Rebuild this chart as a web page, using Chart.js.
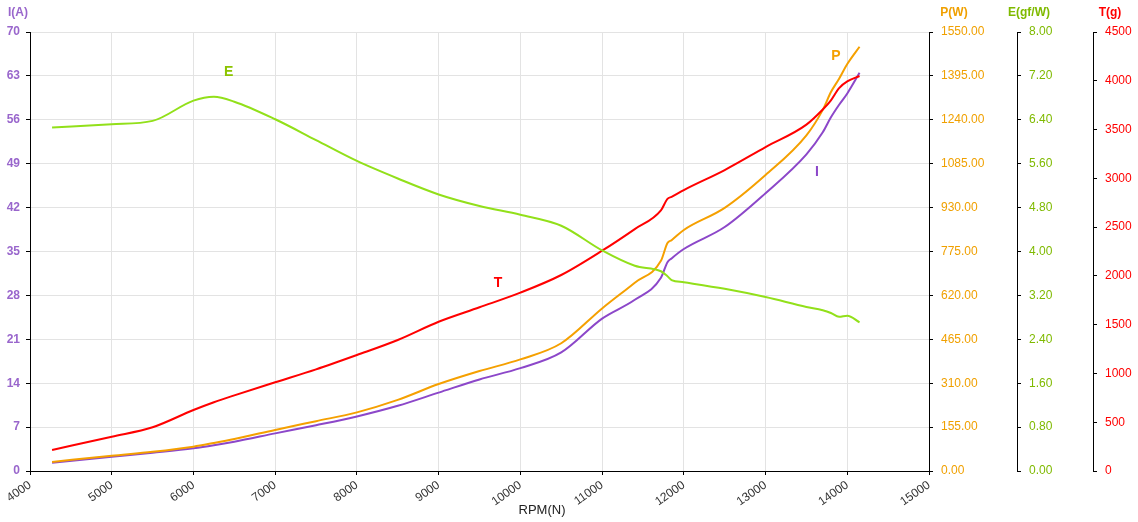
<!DOCTYPE html>
<html>
<head>
<meta charset="utf-8">
<title>RPM chart</title>
<script src="https://cdn.jsdelivr.net/npm/chart.js@4.4.1/dist/chart.umd.min.js"></script>
<style>
  html, body { margin: 0; padding: 0; background: #fff; }
  #wrap { width: 1138px; height: 522px; }
</style>
</head>
<body>
<div id="wrap"><canvas id="rpmChart" width="1138" height="522"></canvas></div>
<script>
const rpm = [4270, 5000, 5500, 6000, 6250, 6500, 7000, 7500, 8000, 8500, 9000, 9500, 10000, 10500,
  11000, 11400, 11720, 11800, 11850, 12000, 12500, 13000, 13500, 13700, 13800, 13900, 14000, 14150];
const currentA = [1.33, 2.28, 2.92, 3.62, 4.1, 4.67, 6.0, 7.3, 8.7, 10.4, 12.5, 14.6, 16.4, 18.9,
  24.3, 27.3, 30.8, 33.3, 33.9, 35.4, 38.9, 44.3, 50.5, 54.0, 56.4, 58.4, 60.2, 63.5];
const powerW = [32, 54, 68, 86, 99, 113, 145, 176, 207, 251, 307, 353, 394, 451,
  574, 665, 742, 805, 815, 851, 929, 1045, 1185, 1275, 1338, 1385, 1437, 1498];
const effic = [6.26, 6.32, 6.38, 6.75, 6.82, 6.73, 6.41, 6.03, 5.65, 5.33, 5.04, 4.83, 4.67, 4.47,
  4.02, 3.74, 3.64, 3.55, 3.48, 3.44, 3.32, 3.17, 2.99, 2.93, 2.88, 2.81, 2.83, 2.71];
const thrustG = [215, 352, 448, 625, 705, 775, 909, 1042, 1189, 1343, 1530, 1678, 1828, 2009,
  2258, 2480, 2672, 2790, 2810, 2880, 3085, 3320, 3550, 3705, 3800, 3925, 3993, 4049];

const COLORS = {
  I: '#8c47c9', Itext: '#9966cc',
  P: '#f5a000', Ptext: '#f0a000',
  E: '#92e01a', Etext: '#7fba00',
  T: '#ff0000', Ttext: '#ff0000'
};

// curve name tags (data coords)
const seriesLabels = [
  { text: 'E', axis: 'yE', rpm: 6430, value: 7.27, color: '#8cc400' },
  { text: 'T', axis: 'yT', rpm: 9726, value: 1927, color: COLORS.T },
  { text: 'P', axis: 'yP', rpm: 13862, value: 1465, color: COLORS.P },
  { text: 'I', axis: 'yI', rpm: 13630, value: 47.7, color: COLORS.I }
];

const FONT = '"Liberation Sans", sans-serif';

function pts(vals) {
  return rpm.map((r, i) => ({ x: r, y: vals[i] }));
}

function makeSet(label, vals, color, axis) {
  return {
    label,
    data: pts(vals),
    yAxisID: axis,
    borderColor: color,
    backgroundColor: color,
    borderWidth: 2,
    pointRadius: 0,
    cubicInterpolationMode: 'monotone',
    fill: false
  };
}

const textPlugin = {
  id: 'texts',
  afterDraw(chart) {
    const ctx = chart.ctx;
    const s = chart.scales;
    ctx.save();
    ctx.textAlign = 'center';
    ctx.textBaseline = 'middle';
    ctx.font = 'bold 14px ' + FONT;
    seriesLabels.forEach(l => {
      ctx.fillStyle = l.color;
      ctx.fillText(l.text, s.x.getPixelForValue(l.rpm), s[l.axis].getPixelForValue(l.value));
    });
    ctx.font = 'bold 12px ' + FONT;
    ctx.fillStyle = COLORS.Itext;
    ctx.fillText('I(A)', s.yI.right - 12, 13);
    ctx.fillStyle = COLORS.Ptext;
    ctx.fillText('P(W)', s.yP.left + 25, 13);
    ctx.fillStyle = COLORS.Etext;
    ctx.fillText('E(gf/W)', s.yE.left + 12, 13);
    ctx.fillStyle = COLORS.Ttext;
    ctx.fillText('T(g)', s.yT.left + 17, 13);
    ctx.font = '13px ' + FONT;
    ctx.fillStyle = '#222';
    ctx.fillText('RPM(N)', 542, 510);
    ctx.restore();
  }
};

function rightAxis(color, max, step, digits, width, weight) {
  return {
    type: 'linear',
    position: 'right',
    weight,
    min: 0,
    max,
    afterFit: sc => { sc.width = width; },
    afterBuildTicks: sc => {
      const t = [];
      for (let v = 0; v <= max + 1e-9; v += step) t.push({ value: +v.toFixed(4) });
      sc.ticks = t;
    },
    border: { display: true, color: '#000', width: 1 },
    grid: { drawOnChartArea: false, tickLength: 4, color: '#000' },
    ticks: {
      padding: 8,
      color,
      font: { family: FONT, size: 12 },
      callback: v => digits ? v.toFixed(digits) : String(v)
    }
  };
}

new Chart(document.getElementById('rpmChart'), {
  type: 'line',
  data: {
    datasets: [
      makeSet('E', effic, COLORS.E, 'yE'),
      makeSet('T', thrustG, COLORS.T, 'yT'),
      makeSet('P', powerW, COLORS.P, 'yP'),
      makeSet('I', currentA, COLORS.I, 'yI')
    ]
  },
  options: {
    responsive: false,
    animation: false,
    layout: { padding: { top: 32, left: 0, right: 0, bottom: 0 } },
    plugins: { legend: { display: false }, tooltip: { enabled: false } },
    scales: {
      x: {
        type: 'linear',
        min: 4000,
        max: 15000,
        afterFit: sc => { sc.height = 51; },
        afterBuildTicks: sc => {
          const t = [];
          for (let v = 4000; v <= 15000; v += 1000) t.push({ value: v });
          sc.ticks = t;
        },
        border: { display: true, color: '#000', width: 1 },
        grid: { color: '#e3e3e3', tickColor: '#000', tickLength: 4 },
        ticks: {
          minRotation: 35,
          maxRotation: 35,
          padding: 3,
          color: '#333',
          font: { family: FONT, size: 12 },
          callback: v => String(v)
        }
      },
      yI: {
        type: 'linear',
        position: 'left',
        min: 0,
        max: 70,
        afterFit: sc => { sc.width = 30; },
        afterBuildTicks: sc => {
          const t = [];
          for (let v = 0; v <= 70; v += 7) t.push({ value: v });
          sc.ticks = t;
        },
        border: { display: true, color: '#000', width: 1 },
        grid: { color: '#e3e3e3', tickColor: '#000', tickLength: 4 },
        ticks: {
          padding: 6,
          color: COLORS.Itext,
          font: { family: FONT, size: 12, weight: 'bold' },
          callback: v => String(v)
        }
      },
      yP: rightAxis(COLORS.Ptext, 1550, 155, 2, 88, 1),
      yE: rightAxis(COLORS.Etext, 8, 0.8, 2, 76, 2),
      yT: rightAxis(COLORS.Ttext, 4500, 500, 0, 45, 3)
    }
  },
  plugins: [textPlugin]
});
</script>
</body>
</html>
